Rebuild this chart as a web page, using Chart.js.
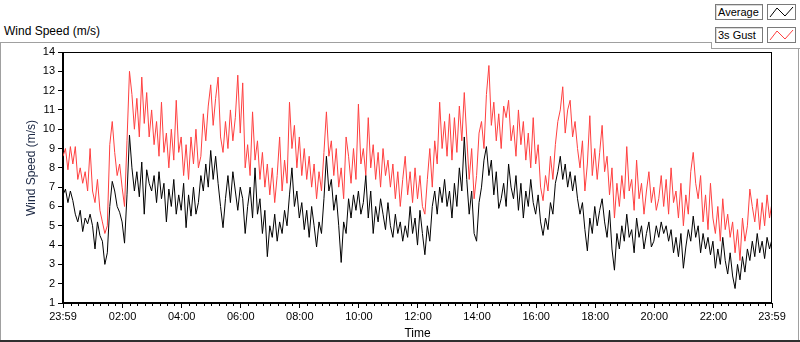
<!DOCTYPE html>
<html>
<head>
<meta charset="utf-8">
<script src="https://cdn.jsdelivr.net/npm/chart.js@4.4.1/dist/chart.umd.min.js"></script>
<style>
    html, body { margin: 0; padding: 0; background: #fff; }
    body { width: 800px; height: 342px; position: relative; overflow: hidden; font-family: "Liberation Sans", Arial, sans-serif; }
    #chart { position: absolute; left: 0; top: 0; }
    .caption { position: absolute; left: 4px; top: 24px; font-size: 12px; color: #000; }
    .line { position: absolute; background: #a0a0a0; }
    .box { position: absolute; height: 14px; border: 1px solid #7a7a7a; background: #fff; box-shadow: inset 1px 1px 0 #d8d8d8; font-size: 11px; line-height: 14px; padding-left: 2px; color: #000; }
    .icon { position: absolute; width: 27px; height: 14px; border: 1px solid #7a7a7a; background: #fff; }
</style>
</head>
<body>
<div class="caption">Wind Speed (m/s)</div>
<div class="line" style="left:0;top:42px;width:712px;height:1px"></div>
<div class="line" style="left:711px;top:42px;width:1px;height:7px"></div>
<div class="line" style="left:711px;top:48px;width:89px;height:1px"></div>
<div class="line" style="left:0;top:42px;width:1px;height:300px"></div>
<div class="line" style="left:798px;top:48px;width:1px;height:294px"></div>
<div class="line" style="left:0;top:340px;width:800px;height:2px;background:#303030"></div>

<div class="box" style="left:715px;top:4px;width:44px">Average</div>
<div class="icon" style="left:767px;top:4px"><svg width="27" height="14"><polyline points="2,12 9,3 17,11 25,2" fill="none" stroke="#000" stroke-width="1"/></svg></div>
<div class="box" style="left:715px;top:27px;width:44px">3s Gust</div>
<div class="icon" style="left:767px;top:27px"><svg width="27" height="14"><polyline points="2,12 9,3 17,11 25,2" fill="none" stroke="#ff4040" stroke-width="1"/></svg></div>

<canvas id="chart" width="800" height="342"></canvas>

<script>
// samples every 5 minutes starting at 23:59 (minute -1)
const sampleStart = -1;
const sampleStep = 5;

const average = [
    6.6,6.9,6.2,6.8,6.3,5.6,5.2,5.8,4.7,5.4,5.1,5.6,
    5.0,3.8,5.2,4.5,4.2,3.0,3.6,6.0,7.3,6.8,6.0,5.7,
    5.2,4.1,6.6,9.7,8.0,6.8,7.8,6.5,8.3,5.6,7.9,7.2,
    6.8,7.6,6.2,7.8,6.4,7.2,5.2,6.9,6.0,7.4,5.6,6.6,
    5.8,7.2,4.9,6.6,5.5,7.0,5.6,6.2,7.6,6.8,8.2,7.0,8.9,
    7.4,8.6,7.2,6.0,4.9,6.4,7.6,6.2,7.8,6.8,5.8,7.0,
    6.4,4.6,6.0,7.0,5.4,8.0,5.6,6.4,4.6,5.8,3.4,5.0,
    4.4,5.6,4.2,5.2,4.6,5.8,5.0,6.6,8.0,6.0,6.8,5.4,
    6.2,4.8,5.8,4.4,6.0,5.0,3.9,5.2,4.6,6.4,8.6,6.8,
    7.4,5.8,6.6,5.0,3.1,5.2,4.6,6.4,5.4,6.6,5.8,6.8,5.6,
    6.2,7.6,5.4,6.8,4.6,6.0,5.2,6.4,5.6,4.8,6.2,5.0,
    4.4,5.6,4.6,5.2,4.2,5.0,4.4,6.0,4.6,5.4,4.0,5.8,
    4.6,3.5,5.0,4.2,6.0,6.8,5.6,7.0,6.2,7.4,6.0,6.8,
    5.4,7.2,6.0,8.0,6.8,9.6,7.4,5.6,6.8,4.6,4.2,6.2,
    7.0,8.4,9.1,7.6,8.4,6.6,7.8,5.9,6.4,7.2,6.0,8.2,7.0,
    6.4,7.6,5.8,7.2,5.4,6.8,6.0,7.4,6.2,5.6,6.6,5.2,
    4.5,5.4,4.8,6.2,5.6,7.2,7.8,8.6,7.4,8.2,7.0,7.8,
    6.8,7.6,6.4,5.6,6.2,4.8,3.7,5.4,4.6,6.0,5.0,5.8,
    6.4,5.2,4.4,5.8,3.8,2.7,4.6,3.8,5.0,4.2,5.6,4.4,
    4.8,3.6,5.4,4.4,5.0,3.8,4.6,5.2,3.9,4.2,5.0,4.4,5.2,
    4.6,5.0,4.2,4.8,3.6,4.4,3.4,4.6,2.8,3.9,4.8,4.2,
    5.5,4.4,5.0,3.6,4.6,3.8,4.4,3.5,4.2,2.8,3.8,3.0,
    4.4,3.2,2.5,3.6,2.4,1.75,3.0,2.2,3.4,2.6,3.8,3.2,
    4.2,3.4,4.6,3.6,4.2,3.3,4.4,3.8,4.3
];

const gust = [
    8.6,9.0,7.9,9.1,8.2,9.1,7.4,8.0,7.2,7.8,6.8,9.0,
    6.8,6.2,7.4,5.8,5.2,4.6,5.0,9.2,10.4,8.8,7.6,8.2,
    7.0,6.0,9.4,13.0,11.8,10.0,11.6,9.6,12.7,10.3,11.9,9.6,
    11.0,9.2,10.4,8.6,11.4,8.8,9.8,8.0,10.0,8.4,11.5,8.8,
    9.6,7.6,9.2,7.4,9.6,8.2,10.0,8.0,8.6,10.8,9.4,11.2,12.3,
    10.2,11.6,12.7,9.6,8.8,10.4,9.0,11.0,9.4,10.6,12.8,9.8,
    12.4,8.0,9.2,7.6,10.9,8.4,9.4,7.4,8.8,7.0,8.2,6.6,
    8.0,6.2,7.6,9.6,6.8,8.4,7.2,11.4,9.0,10.2,8.0,9.6,
    7.6,9.0,7.4,8.6,7.0,8.2,6.4,7.8,6.8,8.8,10.9,8.6,
    9.4,7.6,9.0,7.0,8.0,6.4,9.6,8.6,7.2,9.0,7.4,11.3,8.2,
    9.0,7.6,10.6,8.0,9.2,7.4,8.8,7.0,9.0,7.6,8.4,7.0,
    8.2,6.4,7.8,6.0,7.4,8.6,6.6,7.8,6.2,8.0,6.4,7.6,
    6.0,5.6,7.4,9.0,7.0,9.4,8.2,11.4,9.0,10.4,8.6,10.8,
    8.4,10.6,8.8,11.2,9.4,11.9,9.6,7.4,9.0,6.4,7.6,9.8,
    10.4,9.0,11.8,13.3,10.2,11.4,9.4,10.8,9.0,11.2,10.6,11.5,9.4,
    10.2,8.6,11.0,9.2,10.4,8.4,9.8,8.0,10.6,8.2,9.2,7.0,
    6.3,7.6,6.8,8.6,7.4,9.2,10.4,11.0,12.2,9.8,11.0,11.5,
    9.6,10.4,9.0,8.0,9.4,6.8,8.2,10.7,7.6,9.0,7.4,8.8,
    10.2,7.8,8.6,6.6,8.0,5.4,7.2,6.0,7.6,6.4,9.1,6.8,
    7.4,5.8,8.4,6.4,7.2,5.6,6.8,7.8,6.2,7.0,5.8,6.4,7.6,
    6.0,7.4,5.6,8.0,6.2,6.8,5.4,7.2,5.0,6.6,5.6,7.8,
    8.8,7.2,6.4,7.6,5.2,6.6,4.8,7.2,5.4,4.6,6.0,4.2,
    6.4,4.8,5.6,4.4,5.2,3.6,4.8,3.2,5.4,4.2,5.0,6.9,
    6.0,5.2,6.4,4.8,6.2,5.0,6.6,5.4,6.2
];

const tickMinutes = [-1, 120, 240, 360, 480, 600, 720, 840, 960, 1080, 1200, 1320, 1439];
const tickLabels = ['23:59', '02:00', '04:00', '06:00', '08:00', '10:00', '12:00', '14:00', '16:00', '18:00', '20:00', '22:00', '23:59'];
const minorStep = 15;

const times = average.map((_, i) => sampleStart + i * sampleStep);
const toPoints = arr => arr.map((v, i) => ({ x: times[i], y: v }));

// frame round the plot, minor time ticks and the rotated y title
const framePlugin = {
    id: 'frame',
    afterDraw(chart) {
        const { ctx, chartArea: a, scales: { x } } = chart;
        ctx.save();
        ctx.strokeStyle = '#000';
        ctx.lineWidth = 1;
        ctx.strokeRect(Math.round(a.left) - 0.5, Math.round(a.top) + 0.5, Math.round(a.right - a.left), Math.round(a.bottom - a.top) - 1);

        ctx.beginPath();
        for (let m = minorStep; m < 1439; m += minorStep) {
            if (m % 120 === 0) continue;
            const px = Math.round(x.getPixelForValue(m)) + 0.5;
            ctx.moveTo(px, a.bottom);
            ctx.lineTo(px, a.bottom + 3);
        }
        ctx.stroke();

        ctx.translate(32, 168);
        ctx.rotate(-Math.PI / 2);
        ctx.fillStyle = '#1c2844';
        ctx.font = '12px "Liberation Sans", Arial, sans-serif';
        ctx.textAlign = 'center';
        ctx.textBaseline = 'middle';
        ctx.fillText('Wind Speed (m/s)', 0, 0);
        ctx.restore();
    }
};

new Chart(document.getElementById('chart'), {
    type: 'line',
    data: {
        datasets: [
            {
                label: 'Average',
                data: toPoints(average),
                borderColor: '#000000',
                borderWidth: 1,
                pointRadius: 0,
                tension: 0
            },
            {
                label: '3s Gust',
                data: toPoints(gust),
                borderColor: '#ff4040',
                borderWidth: 1,
                pointRadius: 0,
                tension: 0
            }
        ]
    },
    options: {
        responsive: false,
        animation: false,
        devicePixelRatio: 1,
        layout: { padding: { top: 52, right: 28, left: 0, bottom: 0 } },
        plugins: {
            legend: { display: false },
            tooltip: { enabled: false }
        },
        scales: {
            x: {
                type: 'linear',
                min: -1,
                max: 1439,
                afterBuildTicks: scale => { scale.ticks = tickMinutes.map(v => ({ value: v })); },
                afterFit: scale => { scale.height = 39; },
                ticks: {
                    autoSkip: false,
                    maxRotation: 0,
                    padding: 2,
                    color: '#000',
                    font: { family: '"Liberation Sans", Arial, sans-serif', size: 11 },
                    callback: value => tickLabels[tickMinutes.indexOf(value)]
                },
                grid: { drawOnChartArea: false, tickLength: 5, color: '#000' },
                border: { color: '#000' },
                title: {
                    display: true,
                    text: 'Time',
                    color: '#000',
                    padding: { top: 0, bottom: 1 },
                    font: { family: '"Liberation Sans", Arial, sans-serif', size: 12 }
                }
            },
            y: {
                min: 1,
                max: 14,
                afterFit: scale => { scale.width = 63; },
                ticks: {
                    stepSize: 1,
                    padding: 3,
                    color: '#000',
                    font: { family: '"Liberation Sans", Arial, sans-serif', size: 11 }
                },
                grid: { drawOnChartArea: false, tickLength: 5, color: '#000' },
                border: { color: '#000' }
            }
        }
    },
    plugins: [framePlugin]
});
</script>
</body>
</html>
